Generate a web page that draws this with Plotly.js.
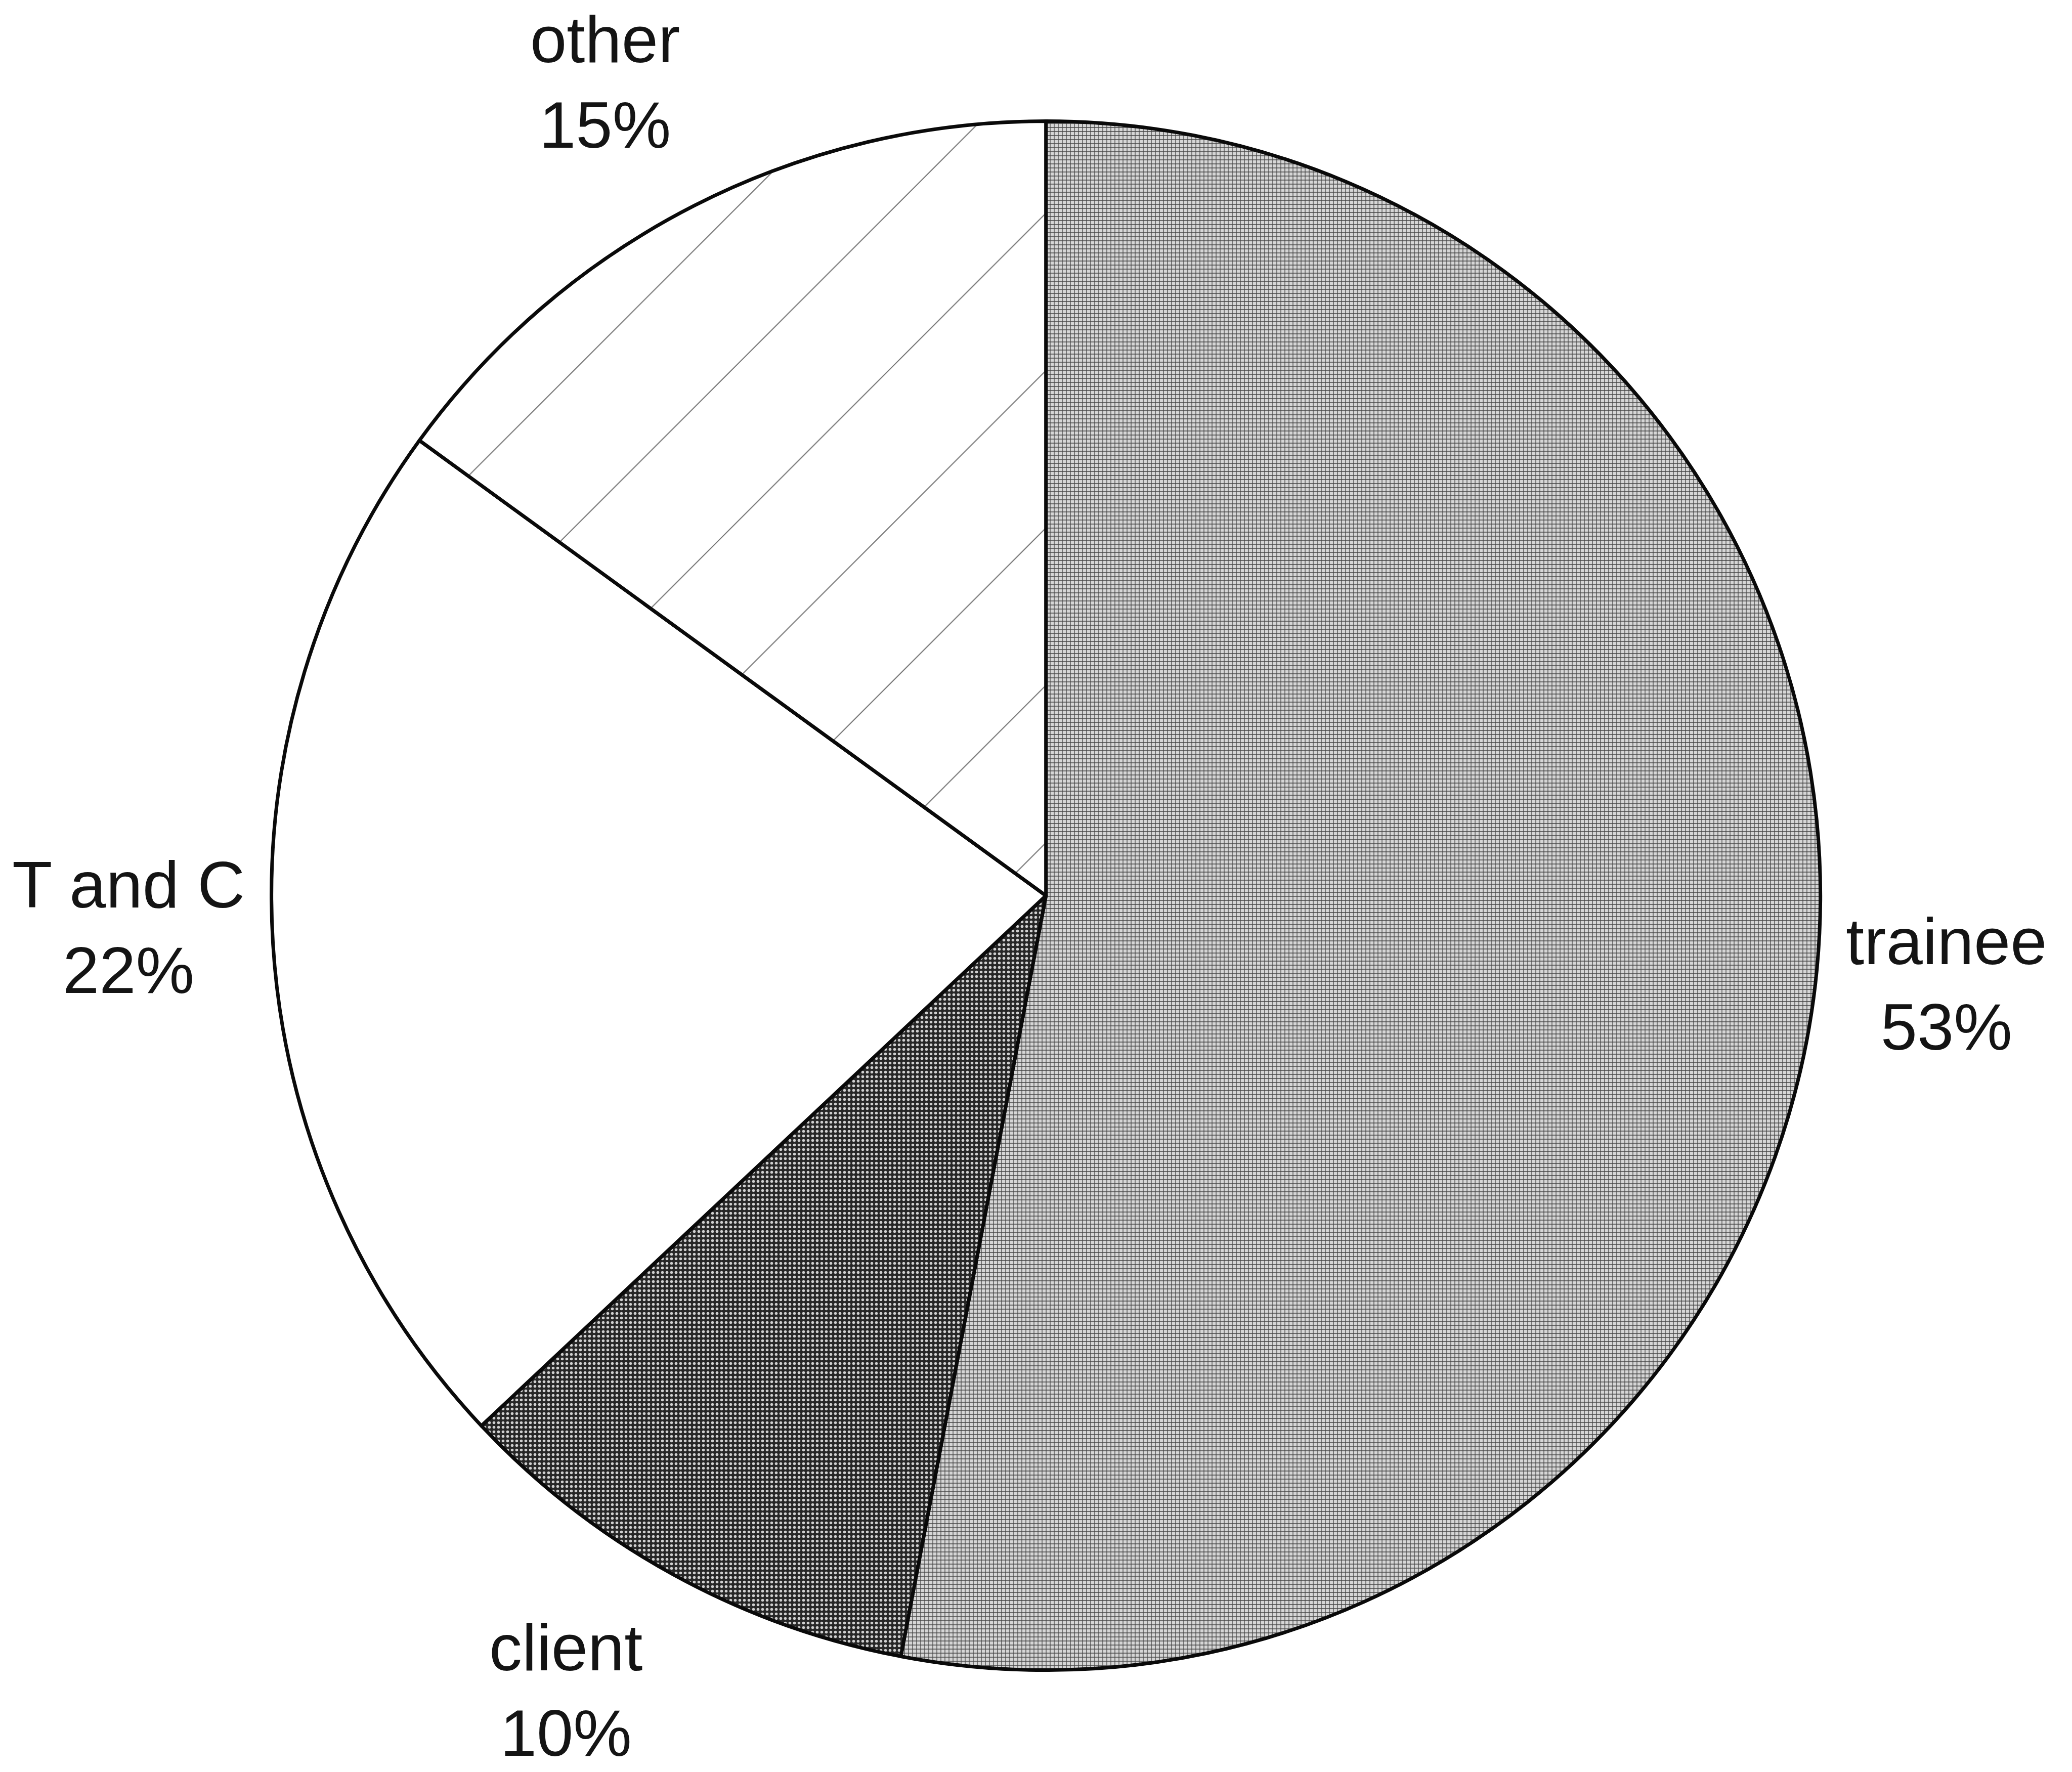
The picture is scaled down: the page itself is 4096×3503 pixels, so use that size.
<!DOCTYPE html>
<html>
<head>
<meta charset="utf-8">
<script src="https://cdn.plot.ly/plotly-3.0.1.min.js"></script>
<style>
  html, body { margin: 0; padding: 0; background: #ffffff; }
  #chart { width: 4096px; height: 3503px; }
</style>
</head>
<body>
<div id="chart"></div>
<script>
// Data
var categories = ["trainee", "client", "T and C", "other"];
var shares = [53, 10, 22, 15];

// Label placement (paper coordinates) - layout only
var labelX = [0.9394, 0.2730, 0.0619, 0.2921];
var labelY = [0.4445, 0.0462, 0.4765, 0.9535];

// Slice fills (approximating the scanned textures)
var sliceColors = ["#b0b0b0", "#3a3a3a", "#ffffff", "#ffffff"];
var patternShapes = ["+", ".", "", "/"];
var patternFg = ["#454545", "#d0d0d0", "#ffffff", "#707070"];
var patternBg = ["#d6d6d6", "#262626", "#ffffff", "#ffffff"];
var patternSize = [8, 9, 8, 220];
var patternSolidity = [0.3, 0.3, 0.3, 0.009];

var labelFont = { family: "Liberation Sans, Arial, sans-serif", size: 130, color: "#141414" };

var trace = {
  type: "pie",
  labels: categories,
  values: shares,
  sort: false,
  direction: "clockwise",
  rotation: 0,
  hole: 0,
  textinfo: "none",
  automargin: false,
  marker: {
    colors: sliceColors,
    line: { color: "#0a0a0a", width: 7 },
    pattern: {
      shape: patternShapes,
      fgcolor: patternFg,
      bgcolor: patternBg,
      size: patternSize,
      solidity: patternSolidity,
      fillmode: "replace"
    }
  },
  domain: { x: [0.1310, 0.8786], y: [0.0575, 0.9316] },
  showlegend: false,
  hoverinfo: "none"
};

var annotations = categories.map(function (c, i) {
  return {
    xref: "paper", yref: "paper",
    x: labelX[i], y: labelY[i],
    xanchor: "center", yanchor: "middle",
    text: c + "<br>" + shares[i] + "%",
    showarrow: false,
    align: "center",
    font: labelFont
  };
});

var layout = {
  width: 4096,
  height: 3503,
  margin: { l: 0, r: 0, t: 0, b: 0 },
  paper_bgcolor: "#ffffff",
  plot_bgcolor: "#ffffff",
  font: { family: "Liberation Sans, Arial, sans-serif", color: "#141414" },
  showlegend: false,
  annotations: annotations
};

Plotly.newPlot("chart", [trace], layout, { staticPlot: true, displayModeBar: false });
</script>
</body>
</html>
